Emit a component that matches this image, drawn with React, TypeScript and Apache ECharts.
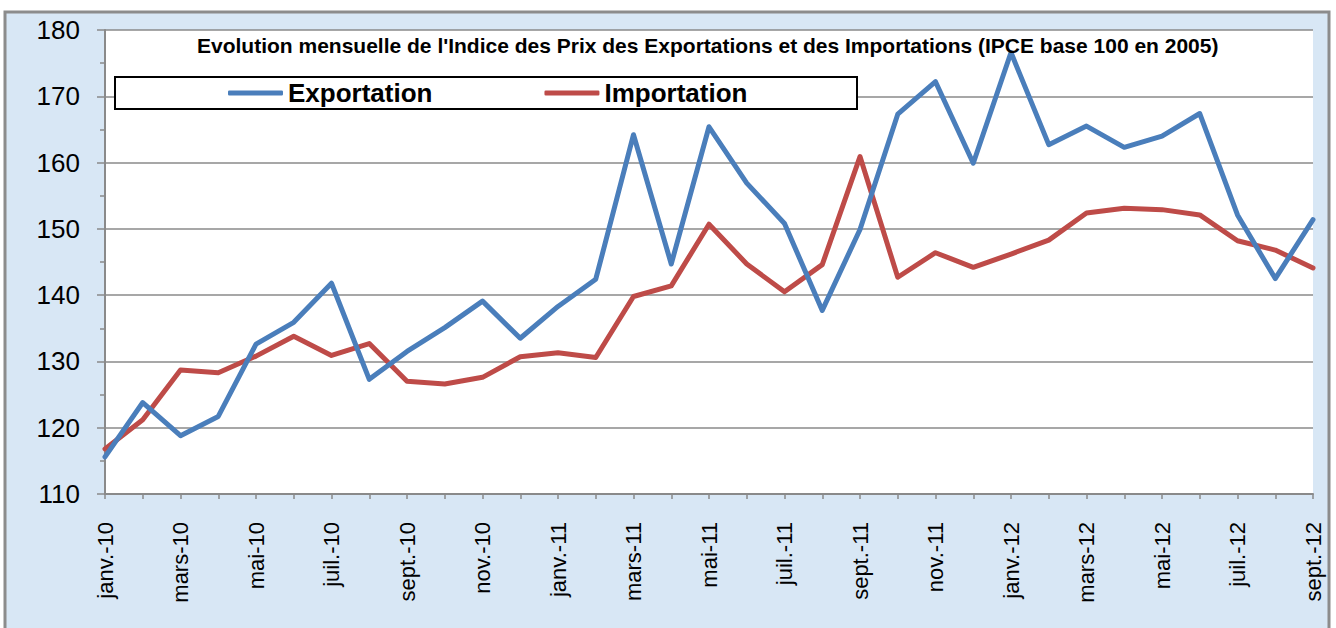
import React, { useEffect, useRef } from "react";
import * as echarts from "echarts";

const categories = [
  "janv.-10", "févr.-10", "mars-10", "avr.-10", "mai-10", "juin-10", "juil.-10", "août-10", "sept.-10", "oct.-10", "nov.-10", "déc.-10",
  "janv.-11", "févr.-11", "mars-11", "avr.-11", "mai-11", "juin-11", "juil.-11", "août-11", "sept.-11", "oct.-11", "nov.-11", "déc.-11",
  "janv.-12", "févr.-12", "mars-12", "avr.-12", "mai-12", "juin-12", "juil.-12", "août-12", "sept.-12",
];

const exportation = [
  115.6, 123.8, 118.8, 121.7, 132.6, 135.9, 141.8, 127.3, 131.5, 135.1, 139.1, 133.5,
  138.3, 142.4, 164.2, 144.7, 165.4, 156.9, 150.8, 137.7, 149.9, 167.3, 172.2, 159.9,
  176.6, 162.7, 165.5, 162.3, 164.0, 167.4, 152.1, 142.5, 151.4,
];

const importation = [
  116.8, 121.2, 128.7, 128.3, 130.8, 133.8, 130.9, 132.7, 127.0, 126.6, 127.6, 130.7,
  131.3, 130.6, 139.8, 141.4, 150.7, 144.7, 140.5, 144.6, 160.9, 142.7, 146.4, 144.2,
  146.2, 148.3, 152.4, 153.1, 152.9, 152.1, 148.2, 146.8, 144.1,
];

const titleText =
  "Evolution mensuelle de l'Indice des Prix des Exportations et des Importations (IPCE base 100 en 2005)";

const FONT = "'Liberation Sans', Arial, Helvetica, sans-serif";

export default function App() {
  const ref = useRef<HTMLDivElement>(null);

  useEffect(() => {
    document.body.style.margin = "0";
    const chart = echarts.init(ref.current!, undefined, { renderer: "svg" });
    chart.setOption({
      animation: false,
      backgroundColor: "#ffffff",
      textStyle: { fontFamily: FONT },
      title: {
        text: titleText,
        left: 197,
        top: 35,
        padding: 0,
        textStyle: { fontSize: 21, fontWeight: "bold", color: "#000", fontFamily: FONT },
      },
      graphic: [
        {
          type: "rect",
          z: -10,
          silent: true,
          shape: { x: 5, y: 12, width: 1324, height: 640 },
          style: { fill: "#d8e7f5", stroke: "#8c8c8c", lineWidth: 3 },
        },
        {
          type: "rect",
          z: 1,
          silent: true,
          shape: { x: 115, y: 77, width: 742, height: 32 },
          style: { fill: "#ffffff", stroke: "#000000", lineWidth: 2 },
        },
      ],
      legend: {
        left: 228,
        top: 80,
        padding: 0,
        itemGap: 112,
        itemWidth: 55,
        itemHeight: 5,
        icon: "roundRect",
        z: 5,
        textStyle: { fontSize: 26, fontWeight: "bold", color: "#000", fontFamily: FONT },
        data: ["Exportation", "Importation"],
      },
      grid: {
        left: 105,
        right: 23,
        top: 30,
        bottom: 134,
        show: true,
        backgroundColor: "#ffffff",
        borderWidth: 0,
      },
      xAxis: {
        type: "category",
        data: categories,
        boundaryGap: false,
        axisLine: { show: true, lineStyle: { color: "#8a8a8a", width: 2 } },
        axisTick: { show: true, interval: 0, length: 5, lineStyle: { color: "#8a8a8a", width: 1.5 } },
        axisLabel: {
          interval: 1,
          rotate: 90,
          margin: 28,
          fontSize: 22,
          color: "#000",
          fontFamily: FONT,
        },
        splitLine: { show: false },
      },
      yAxis: {
        type: "value",
        min: 110,
        max: 180,
        interval: 10,
        axisLine: { show: true, lineStyle: { color: "#8a8a8a", width: 2 } },
        axisTick: { show: true, length: 8, lineStyle: { color: "#8a8a8a", width: 1.5 } },
        minorTick: { show: true, splitNumber: 2, length: 5, lineStyle: { color: "#8a8a8a", width: 1.5 } },
        axisLabel: { margin: 25, fontSize: 26, color: "#000", fontFamily: FONT },
        splitLine: { show: true, lineStyle: { color: "#8a8a8a", width: 1.5 } },
      },
      series: [
        {
          name: "Exportation",
          type: "line",
          data: exportation,
          symbol: "none",
          color: "#4a7ebb",
          lineStyle: { width: 5, color: "#4a7ebb", join: "round", cap: "round" },
          z: 3,
        },
        {
          name: "Importation",
          type: "line",
          data: importation,
          symbol: "none",
          color: "#be4b48",
          lineStyle: { width: 5, color: "#be4b48", join: "round", cap: "round" },
          z: 2,
        },
      ],
    });
    return () => chart.dispose();
  }, []);

  return (
    <div
      ref={ref}
      style={{ position: "fixed", left: 0, top: 0, width: 1336, height: 628 }}
    />
  );
}
